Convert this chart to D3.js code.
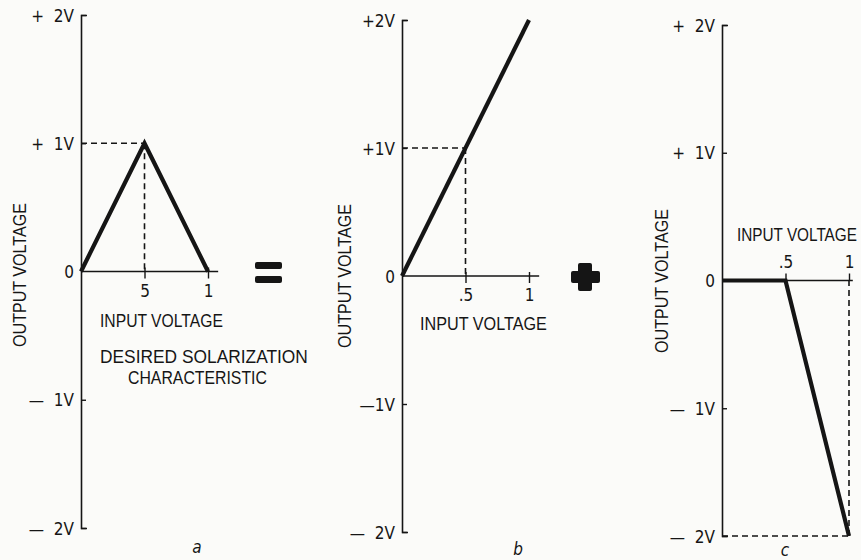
<!DOCTYPE html>
<html>
<head>
<meta charset="utf-8">
<script src="https://cdn.jsdelivr.net/npm/d3@7"></script>
<style>
  html, body { margin: 0; padding: 0; background: #fbfbf9; }
  svg { display: block; }
  text { fill: #151515; font-family: "DejaVu Sans Condensed", "Liberation Sans", sans-serif; }
  .title { font-family: "Liberation Sans", "DejaVu Sans Condensed", sans-serif; }
</style>
</head>
<body>
<svg id="chart" width="861" height="560"></svg>
<script>
// Axis ticks shared by the three transfer curves
const xTicks = [0.5, 1];
const yTicks = [2, 1, 0, -1, -2];

// Tick labels for each panel
const yLabelsA = ["+  2V", "+  1V", "0", "—  1V", "—  2V"];
const yLabelsB = ["+2V", "+1V", "0", "—1V", "—  2V"];
const yLabelsC = ["+  2V", "+  1V", "0", "—  1V", "—  2V"];
const xLabelsA = ["5", "1"];
const xLabelsB = [".5", "1"];
const xLabelsC = [".5", "1"];

// (a) desired solarization characteristic
const inputA  = [0, 0.5, 1];
const outputA = [0, 1, 0];
// (b) linear path: output = 2 × input
const inputB  = [0, 1];
const outputB = [0, 2];
// (c) inverted path: zero until half-scale, then falls to −2V
const inputC  = [0, 0.5, 1];
const outputC = [0, 0, -2];

// Reference points marked with dashed guides
const guideA = [0.5, 1];
const guideB = [0.5, 1];
const guideC = [1, -2];

const ink = "#151515";
const svg = d3.select("#chart");

// Condensed lettering: draw at full height, then squeeze horizontally to a set width.
// (x, y) is the start of the baseline unless anchor is "middle"; rot rotates the line.
function condensedText(str, x, y, width, size, opts = {}) {
  const t = svg.append("text")
    .attr("class", "title")
    .style("font-size", size + "px")
    .attr("text-anchor", opts.anchor || "start")
    .attr("dominant-baseline", opts.central ? "central" : null)
    .text(str);
  const natural = t.node().getComputedTextLength();
  const sx = width / natural;
  t.attr("transform", `translate(${x},${y}) rotate(${opts.rot || 0}) scale(${sx},1)`);
  return t;
}

const panels = [
  { x0: 81,  yTop: 15, yBot: 528, xs: inputA, ys: outputA, guide: guideA,
    yLabels: yLabelsA, xLabels: xLabelsA, xAxisTop: false, axisExtend: 1.08,
    yTitle: { x: 20, y: 275 }, xTitle: { x: 100, y: 327, w: 123 }, tag: { t: "a", x: 197, y: 553 } },
  { x0: 402, yTop: 20, yBot: 532, xs: inputB, ys: outputB, guide: guideB,
    yLabels: yLabelsB, xLabels: xLabelsB, xAxisTop: false, axisExtend: 1.08,
    yTitle: { x: 345, y: 276 }, xTitle: { x: 420, y: 330, w: 127 }, tag: { t: "b", x: 518, y: 555 } },
  { x0: 722, yTop: 25, yBot: 536, xs: inputC, ys: outputC, guide: guideC,
    yLabels: yLabelsC, xLabels: xLabelsC, xAxisTop: true, axisExtend: 1.03,
    yTitle: { x: 662, y: 281 }, xTitle: { x: 737, y: 241, w: 120 }, tag: { t: "c", x: 785, y: 556 } }
];

panels.forEach(p => {
  const x = d3.scaleLinear().domain([0, 1]).range([p.x0, p.x0 + 127]);
  const y = d3.scaleLinear().domain([-2, 2]).range([p.yBot, p.yTop]);
  const g = svg.append("g");

  // vertical axis with inward ticks and hooked ends
  const yAxis = d3.axisLeft(y)
    .tickValues(yTicks)
    .tickSizeInner(-5)
    .tickSizeOuter(-6)
    .tickPadding(7)
    .tickFormat((d, i) => p.yLabels[i]);
  const ya = g.append("g").attr("transform", `translate(${p.x0},0)`).call(yAxis);
  ya.attr("font-family", null).attr("font-size", null);
  ya.select(".domain").attr("stroke", ink).attr("stroke-width", 1.6).attr("fill", "none");
  ya.selectAll(".tick line").attr("stroke", ink).attr("stroke-width", 1.4)
    .attr("display", d => d === 0 ? "none" : null);
  ya.selectAll(".tick text").attr("fill", ink).style("font-size", "17px")
    .style("white-space", "pre").attr("dy", "0.36em");

  // horizontal input axis
  const y0 = y(0);
  g.append("line")
    .attr("x1", x(0)).attr("x2", x(p.axisExtend))
    .attr("y1", y0).attr("y2", y0)
    .attr("stroke", ink).attr("stroke-width", 1.5);
  const xAxis = (p.xAxisTop ? d3.axisTop(x) : d3.axisBottom(x))
    .tickValues(xTicks)
    .tickSizeInner(7)
    .tickSizeOuter(0)
    .tickPadding(6)
    .tickFormat((d, i) => p.xLabels[i]);
  const xa = g.append("g").attr("transform", `translate(0,${y0})`).call(xAxis);
  xa.attr("font-family", null).attr("font-size", null);
  xa.select(".domain").remove();
  xa.selectAll(".tick line").attr("stroke", ink).attr("stroke-width", 1.4)
    .attr("y1", p.xAxisTop ? 0 : -4);
  xa.selectAll(".tick text").attr("fill", ink).style("font-size", "17px");

  // dashed guides to the marked point
  const gx = x(p.guide[0]), gy = y(p.guide[1]);
  g.append("path")
    .attr("d", `M${x(0)},${gy}H${gx}M${gx},${gy}V${y0}`)
    .attr("fill", "none")
    .attr("stroke", ink)
    .attr("stroke-width", 1.6)
    .attr("stroke-dasharray", "6,4");

  // transfer curve
  const line = d3.line().x(d => x(d[0])).y(d => y(d[1]));
  g.append("path")
    .datum(p.xs.map((v, i) => [v, p.ys[i]]))
    .attr("d", line)
    .attr("fill", "none")
    .attr("stroke", ink)
    .attr("stroke-width", 4.2)
    .attr("stroke-linejoin", "miter");

  // axis titles
  condensedText("OUTPUT VOLTAGE", p.yTitle.x, p.yTitle.y, 144, 19,
    { anchor: "middle", central: true, rot: -90 });
  condensedText("INPUT VOLTAGE", p.xTitle.x, p.xTitle.y, p.xTitle.w, 19);

  // panel letter
  g.append("text")
    .attr("x", p.tag.x).attr("y", p.tag.y)
    .attr("text-anchor", "middle")
    .style("font-size", "17px")
    .style("font-style", "italic")
    .text(p.tag.t);
});

// caption under panel a
condensedText("DESIRED SOLARIZATION", 100, 363, 208, 18);
condensedText("CHARACTERISTIC", 128, 384, 139, 18);

// equals sign between a and b
[262, 276].forEach(top => {
  svg.append("rect")
    .attr("x", 255).attr("y", top)
    .attr("width", 27).attr("height", 7)
    .attr("rx", 2)
    .attr("fill", ink);
});

// plus sign between b and c
svg.append("rect").attr("x", 578).attr("y", 263).attr("width", 14).attr("height", 28).attr("rx", 2).attr("fill", ink);
svg.append("rect").attr("x", 571).attr("y", 271).attr("width", 29).attr("height", 12).attr("rx", 2).attr("fill", ink);
</script>
</body>
</html>
